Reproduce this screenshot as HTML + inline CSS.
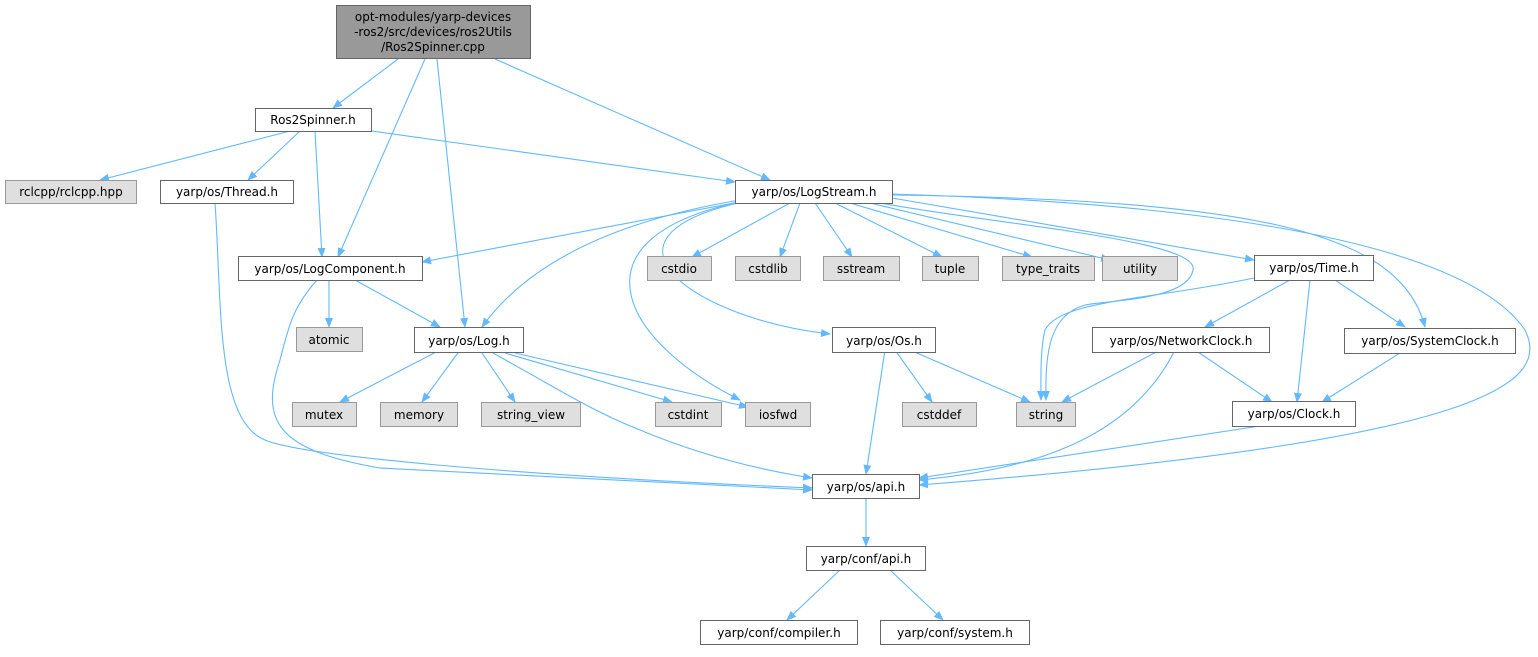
<!DOCTYPE html>
<html><head><meta charset="utf-8"><style>
body{margin:0;background:#fff;width:1538px;height:652px;overflow:hidden}
svg{font-family:"DejaVu Sans","Liberation Sans",sans-serif;font-size:12px}
</style></head><body>
<svg width="1538" height="652" xmlns="http://www.w3.org/2000/svg">
<defs><marker id="a" viewBox="0 0 10 10" refX="9" refY="5" markerWidth="10" markerHeight="10" markerUnits="userSpaceOnUse" orient="auto"><path d="M0,1 L10,5 L0,9 z" fill="#63b8ff"/></marker></defs>
<g fill="none" stroke="#63b8ff" stroke-width="1.1" marker-end="url(#a)">
<path d="M398,59 L333,108"/>
<path d="M425,59 L338,257"/>
<path d="M437,59 L465,327"/>
<path d="M495,59 L770,180"/>
<path d="M290,131 L100,180"/>
<path d="M300,131 L248,180"/>
<path d="M315,131 L322,257"/>
<path d="M372,131 L735,182"/>
<path d="M215,203 C222,300 215,420 265,440 C300,455 500,475 812,488"/>
<path d="M750,200 L422,262"/>
<path d="M740,200 C620,220 530,260 482,327"/>
<path d="M790,203 L692,257"/>
<path d="M800,203 L780,257"/>
<path d="M815,203 L852,257"/>
<path d="M835,203 L942,257"/>
<path d="M850,203 L1032,257"/>
<path d="M870,203 L1110,260"/>
<path d="M892,198 L1254,260"/>
<path d="M892,195 C1250,200 1400,230 1425,327"/>
<path d="M892,194 C1250,205 1470,250 1525,330 C1550,380 1500,440 919,485"/>
<path d="M880,203 C1000,225 1200,240 1193,270 C1188,300 1110,300 1085,305 C1050,315 1045,350 1046,400"/>
<path d="M735,203 C570,240 620,340 740,400"/>
<path d="M738,203 C580,240 700,320 830,334"/>
<path d="M1254,278 C1150,300 1060,300 1045,330 C1040,350 1041,380 1041,400"/>
<path d="M329,280 L329,327"/>
<path d="M355,280 L440,327"/>
<path d="M317,280 C295,305 290,320 280,360 C260,420 275,450 380,468 L812,490"/>
<path d="M440,350 L340,402"/>
<path d="M460,350 L422,402"/>
<path d="M480,350 L515,402"/>
<path d="M505,353 L672,402"/>
<path d="M515,353 L748,407"/>
<path d="M493,353 C560,390 590,410 640,430 C700,455 760,470 812,478"/>
<path d="M895,350 L932,402"/>
<path d="M910,350 L1030,402"/>
<path d="M885,350 L866,474"/>
<path d="M1290,280 L1205,327"/>
<path d="M1335,280 L1405,327"/>
<path d="M1310,280 L1297,402"/>
<path d="M1160,350 L1062,402"/>
<path d="M1195,350 L1272,402"/>
<path d="M1175,350 C1130,440 1030,470 919,480"/>
<path d="M1400,353 L1322,402"/>
<path d="M1260,426 L919,478"/>
<path d="M866,498 L866,546"/>
<path d="M840,570 L787,620"/>
<path d="M890,570 L943,620"/>
</g>
<g stroke="#666" stroke-width="1">
<rect x="336.5" y="5.5" width="194" height="53" fill="#999"/>
<rect x="255.5" y="108.5" width="116" height="23" fill="#fff"/>
<rect x="5.5" y="180.5" width="131" height="23" fill="#dfdfdf" stroke="#999"/>
<rect x="160.5" y="180.5" width="133" height="23" fill="#fff"/>
<rect x="735.5" y="180.5" width="157" height="23" fill="#fff"/>
<rect x="238.5" y="256.5" width="184" height="24" fill="#fff"/>
<rect x="296.5" y="327.5" width="66" height="24" fill="#dfdfdf" stroke="#999"/>
<rect x="414.5" y="327.5" width="109" height="25" fill="#fff"/>
<rect x="647.5" y="256.5" width="64" height="24" fill="#dfdfdf" stroke="#999"/>
<rect x="735.5" y="256.5" width="65" height="24" fill="#dfdfdf" stroke="#999"/>
<rect x="823.5" y="256.5" width="76" height="24" fill="#dfdfdf" stroke="#999"/>
<rect x="922.5" y="256.5" width="56" height="24" fill="#dfdfdf" stroke="#999"/>
<rect x="1002.5" y="256.5" width="92" height="24" fill="#dfdfdf" stroke="#999"/>
<rect x="1102.5" y="256.5" width="75" height="24" fill="#dfdfdf" stroke="#999"/>
<rect x="1254.5" y="255.5" width="119" height="25" fill="#fff"/>
<rect x="832.5" y="327.5" width="103" height="25" fill="#fff"/>
<rect x="1092.5" y="327.5" width="177" height="25" fill="#fff"/>
<rect x="1344.5" y="328.5" width="171" height="25" fill="#fff"/>
<rect x="292.5" y="402.5" width="64" height="24" fill="#dfdfdf" stroke="#999"/>
<rect x="380.5" y="402.5" width="77" height="24" fill="#dfdfdf" stroke="#999"/>
<rect x="481.5" y="402.5" width="99" height="24" fill="#dfdfdf" stroke="#999"/>
<rect x="655.5" y="402.5" width="66" height="24" fill="#dfdfdf" stroke="#999"/>
<rect x="745.5" y="402.5" width="65" height="24" fill="#dfdfdf" stroke="#999"/>
<rect x="902.5" y="402.5" width="74" height="24" fill="#dfdfdf" stroke="#999"/>
<rect x="1016.5" y="402.5" width="59" height="24" fill="#dfdfdf" stroke="#999"/>
<rect x="1232.5" y="401.5" width="123" height="25" fill="#fff"/>
<rect x="812.5" y="474.5" width="107" height="24" fill="#fff"/>
<rect x="806.5" y="546.5" width="119" height="24" fill="#fff"/>
<rect x="700.5" y="620.5" width="157" height="24" fill="#fff"/>
<rect x="880.5" y="620.5" width="149" height="24" fill="#fff"/>
</g>
<g fill="#000" text-anchor="middle">
<text x="433" y="21">opt-modules/yarp-devices</text>
<text x="433" y="36">-ros2/src/devices/ros2Utils</text>
<text x="433" y="51">/Ros2Spinner.cpp</text>
<text x="313" y="124">Ros2Spinner.h</text>
<text x="71" y="196">rclcpp/rclcpp.hpp</text>
<text x="227" y="196">yarp/os/Thread.h</text>
<text x="814" y="196">yarp/os/LogStream.h</text>
<text x="330" y="273">yarp/os/LogComponent.h</text>
<text x="329" y="344">atomic</text>
<text x="469" y="345">yarp/os/Log.h</text>
<text x="679" y="273">cstdio</text>
<text x="768" y="273">cstdlib</text>
<text x="861" y="273">sstream</text>
<text x="950" y="273">tuple</text>
<text x="1048" y="273">type_traits</text>
<text x="1140" y="273">utility</text>
<text x="1314" y="272">yarp/os/Time.h</text>
<text x="884" y="345">yarp/os/Os.h</text>
<text x="1181" y="345">yarp/os/NetworkClock.h</text>
<text x="1430" y="345">yarp/os/SystemClock.h</text>
<text x="324" y="419">mutex</text>
<text x="419" y="419">memory</text>
<text x="531" y="419">string_view</text>
<text x="688" y="419">cstdint</text>
<text x="778" y="419">iosfwd</text>
<text x="939" y="419">cstddef</text>
<text x="1046" y="419">string</text>
<text x="1294" y="418">yarp/os/Clock.h</text>
<text x="866" y="491">yarp/os/api.h</text>
<text x="866" y="563">yarp/conf/api.h</text>
<text x="779" y="637">yarp/conf/compiler.h</text>
<text x="955" y="637">yarp/conf/system.h</text>
</g>
</svg>
</body></html>
